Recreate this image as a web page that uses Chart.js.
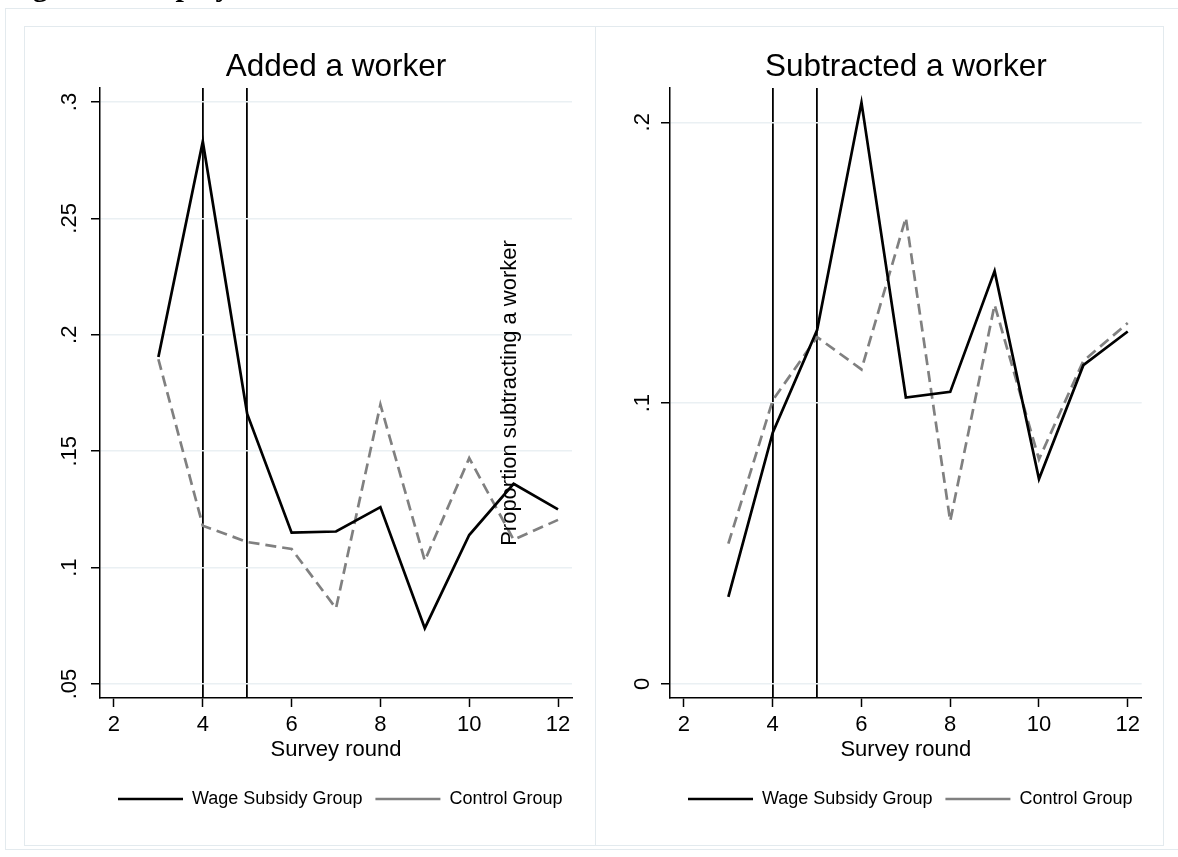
<!DOCTYPE html>
<html>
<head>
<meta charset="utf-8">
<script src="https://cdn.jsdelivr.net/npm/chart.js@4.4.1/dist/chart.umd.min.js"></script>
<style>
  html, body { margin: 0; padding: 0; background: #fff; width: 1178px; height: 857px; overflow: hidden; position: relative; }
  .frame { position: absolute; border: 1.5px solid #e3eaee; box-sizing: border-box; }
  #caption { position: absolute; left: 6px; top: -29.5px; font: bold 30px 'Liberation Serif', 'Times New Roman', serif; line-height: 30px; white-space: nowrap; color: #000; z-index: 5; }
  canvas { position: absolute; top: 0; }
</style>
</head>
<body>
<div class="frame" style="left:5px;top:8px;width:1200px;height:842px"></div>
<div class="frame" style="left:24px;top:26px;width:572px;height:820px"></div>
<div class="frame" style="left:595px;top:26px;width:569px;height:820px"></div>
<canvas id="added" width="600" height="857" style="left:0"></canvas>
<canvas id="subtracted" width="698" height="857" style="left:480px"></canvas>
<div id="caption">Figure 4: Employment</div>
<script>
// Survey rounds and the share of firms changing headcount in each round
const rounds = [3, 4, 5, 6, 7, 8, 9, 10, 11, 12];
const addedSubsidy = [0.1905, 0.283, 0.166, 0.115, 0.1155, 0.126, 0.074, 0.114, 0.136, 0.125];
const addedControl = [0.1895, 0.118, 0.111, 0.108, 0.0825, 0.170, 0.103, 0.147, 0.112, 0.1205];
const subtractedSubsidy = [0.031, 0.0895, 0.126, 0.207, 0.102, 0.104, 0.147, 0.073, 0.1135, 0.1255];
const subtractedControl = [0.050, 0.101, 0.1235, 0.112, 0.166, 0.058, 0.135, 0.080, 0.115, 0.1285];

// Rounds marked with vertical reference lines
const treatmentRounds = [4, 5];

// Axis ticks and their labels
const roundTicks = [2, 4, 6, 8, 10, 12];
const addedTicks = [0.05, 0.10, 0.15, 0.20, 0.25, 0.30];
const addedTickLabels = ['.05', '.1', '.15', '.2', '.25', '.3'];
const subtractedTicks = [0, 0.1, 0.2];
const subtractedTickLabels = ['0', '.1', '.2'];
const seriesNames = ['Wage Subsidy Group', 'Control Group'];

const FONT = "'Liberation Sans', Arial, Helvetica, sans-serif";
Chart.defaults.font.family = FONT;
Chart.defaults.color = '#000';

const X_MIN = 1.685, X_MAX = 12.315;

// Moves the legend row a little to the right of the plot's left edge
const legendIndent = {
  id: 'legendIndent',
  afterLayout(chart) {
    const lg = chart.legend;
    if (lg) { lg.left += 5; lg.right += 5; }
  }
};

function panel(id, o) {
  const toPoints = vals => vals.map((v, i) => ({ x: rounds[i], y: v }));
  const yTitle = o.yTitle
    ? { display: true, text: o.yTitle, color: '#000', font: { size: 22 }, padding: { top: o.yTitlePad, bottom: 0 } }
    : { display: false };
  return new Chart(document.getElementById(id), {
    type: 'line',
    data: {
      datasets: [
        { label: seriesNames[0], data: toPoints(o.subsidy), xAxisID: 'x', yAxisID: 'y',
          borderColor: '#000', backgroundColor: '#000', borderWidth: 2.7,
          pointRadius: 0, tension: 0 },
        { label: seriesNames[1], data: toPoints(o.control), xAxisID: 'x', yAxisID: 'y',
          borderColor: '#808080', backgroundColor: '#808080', borderWidth: 2.7, borderDash: [11, 6],
          pointRadius: 0, tension: 0 }
      ]
    },
    plugins: [legendIndent],
    options: {
      responsive: false,
      animation: false,
      devicePixelRatio: 1,
      layout: { padding: { left: 10, right: o.padRight, top: 40, bottom: 39 } },
      plugins: {
        tooltip: { enabled: false },
        title: {
          display: true, text: o.title, fullSize: false, color: '#000',
          font: { size: 31.5, weight: 'normal' }, padding: { top: 8.8, bottom: 1.4 }
        },
        legend: {
          position: 'bottom', align: 'start', fullSize: false,
          labels: {
            usePointStyle: true, pointStyle: 'line', pointStyleWidth: 65,
            padding: 13, color: '#000', font: { size: 18 }
          }
        }
      },
      scales: {
        x: {
          type: 'linear', position: 'bottom', min: X_MIN, max: X_MAX,
          afterBuildTicks: s => { s.ticks = roundTicks.map(v => ({ value: v })); },
          ticks: { color: '#000', font: { size: 22 }, padding: 5, maxRotation: 0, callback: v => String(v) },
          grid: { drawOnChartArea: false, drawTicks: true, tickLength: 9, tickColor: '#000', tickWidth: 1.5 },
          border: { color: '#000', width: 1.5 },
          title: { display: true, text: 'Survey round', color: '#000', font: { size: 22 }, padding: { top: -6.2, bottom: 13.4 } }
        },
        treat: {
          type: 'linear', position: 'bottom', min: X_MIN, max: X_MAX,
          afterBuildTicks: s => { s.ticks = treatmentRounds.map(v => ({ value: v })); },
          afterFit: s => { s.height = 0; },
          ticks: { display: false },
          grid: { color: '#000', lineWidth: 1.8, drawTicks: false },
          border: { display: false }
        },
        y: {
          type: 'linear', position: 'left', min: o.yMin, max: o.yMax,
          afterBuildTicks: s => { s.ticks = o.ticks.map(v => ({ value: v })); },
          afterFit: s => { s.width = o.axisWidth; },
          ticks: {
            color: '#000', font: { size: 22 }, minRotation: 90, maxRotation: 90,
            crossAlign: 'center', padding: o.tickPad,
            callback: (v, i) => o.tickLabels[i]
          },
          grid: { color: '#eaf0f3', lineWidth: 1.5, tickColor: '#000', tickWidth: 1.5, tickLength: 9 },
          border: { color: '#000', width: 1.5 },
          title: yTitle
        }
      }
    }
  });
}

panel('added', {
  title: 'Added a worker',
  subsidy: addedSubsidy, control: addedControl,
  yMin: 0.044, yMax: 0.306,
  ticks: addedTicks, tickLabels: addedTickLabels,
  axisWidth: 90, tickPad: 5.3, padRight: 28
});

panel('subtracted', {
  title: 'Subtracted a worker',
  subsidy: subtractedSubsidy, control: subtractedControl,
  yMin: -0.005, yMax: 0.2122,
  ticks: subtractedTicks, tickLabels: subtractedTickLabels,
  axisWidth: 180, tickPad: 8.4, padRight: 36.3,
  yTitle: 'Proportion subtracting a worker', yTitlePad: 7.2
});
</script>
</body>
</html>
